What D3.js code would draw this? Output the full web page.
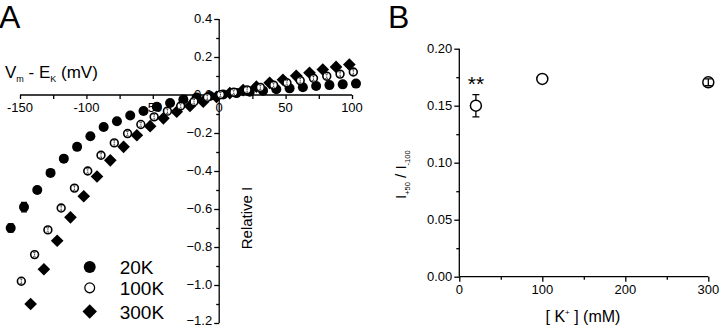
<!DOCTYPE html>
<html><head><meta charset="utf-8">
<script src="https://cdn.jsdelivr.net/npm/d3@7"></script>
<style>
html,body{margin:0;padding:0;background:#fff;}
svg{display:block;font-family:"Liberation Sans",Arial,sans-serif;}
</style></head>
<body>
<svg id="c" width="720" height="327"></svg>
<script>
// ---------- Panel A data ----------
const v20 = [-157,-147,-137,-127,-117,-107,-97,-87,-77,-67,-57,-47,-37,-27,-17,-7,3,13,23,33,43,53,63,73,83,93,103];
const i20 = [-0.70,-0.59,-0.50,-0.41,-0.335,-0.273,-0.217,-0.168,-0.138,-0.108,-0.084,-0.062,-0.042,-0.024,-0.013,-0.005,0.003,0.010,0.017,0.023,0.030,0.035,0.041,0.047,0.052,0.056,0.060];
const e20 = [0.022,0.025,0.015,0.01,0,0,0,0,0,0,0,0,0,0,0,0,0,0,0,0,0,0,0,0,0,0,0];
const v100 = [-149,-139,-129,-119,-109,-99,-89,-79,-69,-59,-49,-39,-29,-19,-9,1,11,21,31,41,51,61,71,81,91,101];
const i100 = [-0.98,-0.84,-0.71,-0.595,-0.49,-0.40,-0.317,-0.252,-0.203,-0.155,-0.115,-0.085,-0.058,-0.035,-0.012,0.002,0.015,0.027,0.040,0.052,0.064,0.076,0.088,0.099,0.110,0.121];
const v300 = [-142,-132,-122,-112,-102,-92,-82,-72,-62,-52,-42,-32,-22,-12,-2,8,18,28,38,48,58,68,78,88,98];
const i300 = [-1.10,-0.917,-0.767,-0.644,-0.533,-0.429,-0.344,-0.273,-0.212,-0.164,-0.123,-0.088,-0.058,-0.035,-0.010,0.010,0.026,0.044,0.064,0.080,0.101,0.117,0.134,0.148,0.160];
const legendLabels = ["20K","100K","300K"];
const xTicksA = [-150,-100,-50,0,50,100];
const yTicksA = [-1.2,-1.0,-0.8,-0.6,-0.4,-0.2,0.0,0.2,0.4];

// ---------- Panel B data ----------
const kConc = [20,100,300];
const ratio = [0.150,0.1735,0.1705];
const ratioErr = [0.0098,0,0.003];
const xTicksB = [0,100,200,300];
const yTicksB = [0.00,0.05,0.10,0.15,0.20];

const svg = d3.select("#c");

// ===== Panel A =====
const xA = d3.scaleLinear().domain([-150,100]).range([20,352]);
const yA = d3.scaleLinear().domain([-1.2,0.4]).range([323,19]);
const gA = svg.append("g");

const yAx = gA.append("g").attr("transform",`translate(${xA(0)},0)`);
yAx.call(d3.axisLeft(yA).tickValues(d3.range(-1.2,0.41,0.1)).tickSize(3).tickFormat(""));
yAx.call(g=>g.selectAll(".tick").filter(d=>Math.abs(Math.round(d*10))%2===0).select("line").attr("x2",-5));
yAx.selectAll("path,line").attr("stroke","#000").attr("stroke-width",1.3);
yAx.select(".domain").attr("d",`M0,${yA(0.4)}V${yA(-1.2)}`);
gA.append("g").selectAll("text").data(yTicksA).join("text")
  .attr("x",xA(0)-7).attr("y",d=>yA(d)-(d<-1.1?2:0)).attr("dy","0.33em").attr("text-anchor","end")
  .attr("font-size",13).text(d=>d3.format(".1f")(d));

const xAx = gA.append("g").attr("transform",`translate(0,${yA(0)})`);
xAx.call(d3.axisBottom(xA).tickValues(d3.range(-150,101,25)).tickSize(4).tickFormat(""));
xAx.selectAll("path,line").attr("stroke","#000").attr("stroke-width",1.3);
xAx.select(".domain").attr("d",`M${xA(-150)},0H${xA(100)}`);
gA.append("g").selectAll("text").data(xTicksA).join("text")
  .attr("x",d=>xA(d)).attr("y",yA(0)+17).attr("text-anchor","middle")
  .attr("font-size",13).text(d=>d3.format("d")(d).replace("−","-"));

const tA = gA.append("text").attr("x",5).attr("y",78).attr("font-size",17);
tA.append("tspan").text("V");
tA.append("tspan").attr("font-size",9).attr("dy",4).text("m");
tA.append("tspan").attr("dy",-4).text(" - E");
tA.append("tspan").attr("font-size",9).attr("dy",4).text("K");
tA.append("tspan").attr("dy",-4).text(" (mV)");
gA.append("text").attr("transform",`translate(252,218) rotate(-90)`).attr("text-anchor","middle")
  .attr("font-size",15).text("Relative I");
svg.append("text").attr("x",-1).attr("y",28).attr("font-size",32).text("A");

// symbols
const diamond = d3.symbol().type(d3.symbolSquare).size(80);
const pts300 = v300.map((v,i)=>({v,i:i300[i]}));
const pts20 = v20.map((v,i)=>({v,i:i20[i],e:e20[i]}));
const pts100 = v100.map((v,i)=>({v,i:i100[i]}));

gA.append("g").selectAll("path").data(pts300).join("path")
  .attr("d",diamond).attr("transform",d=>`translate(${xA(d.v)},${yA(d.i)}) rotate(45)`).attr("fill","#000");

const g20 = gA.append("g");
g20.selectAll("path.cap").data(pts20.filter(d=>d.e>0)).join("path").attr("class","cap")
  .attr("d",d=>`M${xA(d.v)},${yA(d.i-d.e)}V${yA(d.i+d.e)}M${xA(d.v)-3},${yA(d.i-d.e)}h6M${xA(d.v)-3},${yA(d.i+d.e)}h6`)
  .attr("stroke","#000").attr("stroke-width",1.2);
g20.selectAll("circle").data(pts20).join("circle")
  .attr("cx",d=>xA(d.v)).attr("cy",d=>yA(d.i)).attr("r",5).attr("fill","#000");

const g100 = gA.append("g");
g100.selectAll("circle").data(pts100).join("circle")
  .attr("cx",d=>xA(d.v)).attr("cy",d=>yA(d.i)).attr("r",3.9).attr("fill","#fff")
  .attr("stroke","#000").attr("stroke-width",1.6);
g100.selectAll("path").data(pts100).join("path")
  .attr("d",d=>{const x=xA(d.v),y=yA(d.i);return `M${x},${y-2.3}V${y+2.3}M${x-1.6},${y-2.3}h3.2M${x-1.6},${y+2.3}h3.2`;})
  .attr("stroke","#000").attr("stroke-width",0.8).attr("stroke-dasharray","1,0.6");

// legend
const lg = gA.append("g");
const lx = xA(-97.5);
const ly = [yA(-0.905), yA(-1.015), yA(-1.14)];
lg.append("circle").attr("cx",lx).attr("cy",ly[0]).attr("r",6).attr("fill","#000");
lg.append("circle").attr("cx",lx).attr("cy",ly[1]).attr("r",4.9).attr("fill","#fff").attr("stroke","#000").attr("stroke-width",1.3);
lg.append("path").attr("d",d3.symbol().type(d3.symbolSquare).size(105)).attr("transform",`translate(${lx},${ly[2]}) rotate(45)`).attr("fill","#000");
lg.selectAll("text").data(legendLabels).join("text").attr("x",lx+30).attr("y",(d,i)=>ly[i]+7)
  .attr("font-size",19).text(d=>d);

// ===== Panel B =====
const xB = d3.scaleLinear().domain([0,300]).range([459.3,708.3]);
const yB = d3.scaleLinear().domain([0,0.2]).range([276.7,48.7]);
const gB = svg.append("g");

const yBx = gB.append("g").attr("transform",`translate(${xB(0)},0)`);
yBx.call(d3.axisLeft(yB).tickValues(d3.range(0,0.2001,0.025)).tickSize(3).tickFormat(""));
yBx.call(g=>g.selectAll(".tick").filter(d=>Math.round(d*1000)%50===0).select("line").attr("x2",-5));
yBx.selectAll("path,line").attr("stroke","#000").attr("stroke-width",1.3);
yBx.select(".domain").attr("d",`M0,${yB(0.2)}V${yB(0)}`);
gB.append("g").selectAll("text").data(yTicksB).join("text")
  .attr("x",xB(0)-7).attr("y",d=>yB(d)).attr("dy","0.36em").attr("text-anchor","end")
  .attr("font-size",13).text(d=>d3.format(".2f")(d));

const xBx = gB.append("g").attr("transform",`translate(0,${yB(0)})`);
xBx.call(d3.axisBottom(xB).tickValues(d3.range(0,301,50)).tickSize(3).tickFormat(""));
xBx.call(g=>g.selectAll(".tick").filter(d=>d%100===0).select("line").attr("y2",5));
xBx.selectAll("path,line").attr("stroke","#000").attr("stroke-width",1.3);
xBx.select(".domain").attr("d",`M${xB(0)},0H${xB(300)}`);
gB.append("g").selectAll("text").data(xTicksB).join("text")
  .attr("x",d=>xB(d)).attr("y",yB(0)+17).attr("text-anchor","middle")
  .attr("font-size",13).text(d=>d);

const tB = gB.append("text").attr("x",583).attr("y",322).attr("text-anchor","middle").attr("font-size",16);
tB.append("tspan").text("[ K");
tB.append("tspan").attr("font-size",8).attr("dy",-7).text("+");
tB.append("tspan").attr("dy",7).text(" ] (mM)");
const yl = gB.append("text").attr("transform",`translate(406,${yB(0.1)+12}) rotate(-90)`).attr("text-anchor","middle").attr("font-size",15);
yl.append("tspan").text("I");
yl.append("tspan").attr("font-size",7.5).attr("dy",4).text("+50");
yl.append("tspan").attr("dy",-4).text(" / I");
yl.append("tspan").attr("font-size",7.5).attr("dy",4).text("-100");
svg.append("text").attr("x",388).attr("y",28).attr("font-size",32).text("B");

const ptsB = kConc.map((k,i)=>({k,r:ratio[i],e:ratioErr[i]}));
gB.append("g").selectAll("path").data(ptsB.filter(d=>d.e>0)).join("path")
  .attr("d",d=>{const x=xB(d.k),y1=yB(d.r-d.e),y2=yB(d.r+d.e);return `M${x},${y1}V${y2}M${x-3.5},${y1}h7M${x-3.5},${y2}h7`;})
  .attr("stroke","#000").attr("stroke-width",1.3);
gB.append("g").selectAll("circle").data(ptsB).join("circle")
  .attr("cx",d=>xB(d.k)).attr("cy",d=>yB(d.r)).attr("r",5.5)
  .attr("fill",d=>(d.e>0.005||d.e===0)?"#fff":"none").attr("stroke","#000").attr("stroke-width",1.5);
gB.append("text").attr("x",xB(20)).attr("y",yB(0.171)+9).attr("text-anchor","middle")
  .attr("font-size",21).text("**");
</script>
</body></html>
